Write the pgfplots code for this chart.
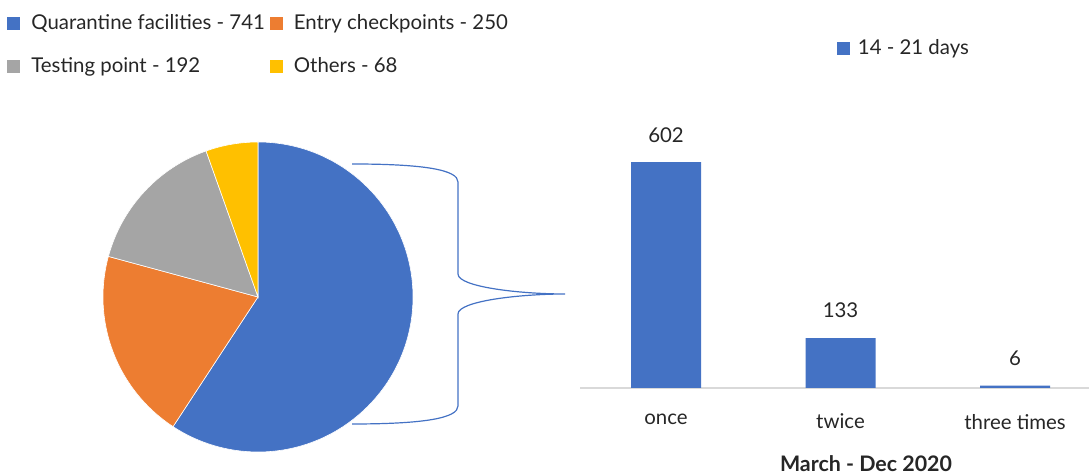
\documentclass[border=0pt]{standalone}
\usepackage{pgfplots}
\pgfplotsset{compat=1.18}
\usepackage{fontspec}
\setmainfont{Lato}
\definecolor{cblue}{HTML}{4472C4}
\definecolor{corange}{HTML}{ED7D31}
\definecolor{cgray}{HTML}{A5A5A5}
\definecolor{cyellow}{HTML}{FFC000}
\definecolor{ctext}{HTML}{262626}
\definecolor{caxis}{HTML}{D9D9D9}
\newcommand{\fs}{\fontsize{10.2}{12}\selectfont}
\begin{document}
\begin{tikzpicture}[font=\fs,text=ctext]
\path[use as bounding box] (0pt,0pt) rectangle (544.5pt,-237pt);
% ---------------- pie -----------------
\begin{axis}[
  at={(129pt,-148.5pt)}, anchor=center,
  width=155pt, height=155pt, scale only axis,
  xmin=-1, xmax=1, ymin=-1, ymax=1,
  hide axis, clip=false,
  legend columns=2,
  legend style={at={(-0.3098,1.422)}, anchor=north west, draw=none, fill=none,
    inner sep=0pt, font=\fs, text=ctext, nodes={inner sep=1.5pt},
    /tikz/every odd column/.append style={column sep=4pt},
    /tikz/every even column/.append style={column sep=1pt},
    row sep=9.5pt, legend cell align=left},
  legend image code/.code={\fill[#1,draw=none] (0pt,-3.25pt) rectangle (6.5pt,3.25pt);},
]
\addlegendimage{fill=cblue}\addlegendentry{Quarantine facilities - 741}
\addlegendimage{fill=corange}\addlegendentry{Entry checkpoints - 250}
\addlegendimage{fill=cgray}\addlegendentry{Testing point - 192}
\addlegendimage{fill=cyellow}\addlegendentry{Others - 68}
\def\total{1251}
\pgfmathsetmacro{\aA}{90}
\pgfmathsetmacro{\aB}{90-741/\total*360}
\pgfmathsetmacro{\aC}{\aB-250/\total*360}
\pgfmathsetmacro{\aD}{\aC-192/\total*360}
\pgfmathsetmacro{\aE}{\aD-68/\total*360}
\fill[cblue,draw=white,line width=0.3pt] (axis cs:0,0) -- (axis cs:{cos(\aA)},{sin(\aA)}) arc[start angle=\aA,end angle=\aB,radius=77.5pt] -- cycle;
\fill[corange,draw=white,line width=0.3pt] (axis cs:0,0) -- (axis cs:{cos(\aB)},{sin(\aB)}) arc[start angle=\aB,end angle=\aC,radius=77.5pt] -- cycle;
\fill[cgray,draw=white,line width=0.3pt] (axis cs:0,0) -- (axis cs:{cos(\aC)},{sin(\aC)}) arc[start angle=\aC,end angle=\aD,radius=77.5pt] -- cycle;
\fill[cyellow,draw=white,line width=0.3pt] (axis cs:0,0) -- (axis cs:{cos(\aD)},{sin(\aD)}) arc[start angle=\aD,end angle=\aE,radius=77.5pt] -- cycle;
\end{axis}
% ---------------- bracket -----------------
\draw[cblue,line width=0.6pt] (176pt,-82pt) .. controls (212.5pt,-82pt) and (229pt,-85pt) .. (229pt,-91pt)
  -- (229pt,-137pt) .. controls (229pt,-143.5pt) and (260pt,-147pt) .. (282.5pt,-147pt)
  .. controls (260pt,-147pt) and (229pt,-150.5pt) .. (229pt,-157pt)
  -- (229pt,-203pt) .. controls (229pt,-209pt) and (212.5pt,-212pt) .. (176pt,-212pt);
% ---------------- bars -----------------
\begin{axis}[
  at={(290pt,-194pt)}, anchor=south west,
  width=254.5pt, height=131.25pt, scale only axis,
  xmin=-0.493, xmax=2.424, ymin=0, ymax=700,
  ybar, bar width=35pt,
  axis y line=none,
  axis x line*=bottom,
  x axis line style={caxis, line width=1pt, -},
  xtick={0,1,2}, xticklabels={once,twice,three times},
  major tick length=0pt,
  xticklabel style={font=\fs, text=ctext, yshift=-9.5pt},
  nodes near coords,
  /pgf/number format/assume math mode=true,
  every node near coord/.append style={font=\fs, text=ctext, yshift=6.5pt},
  clip=false,
  legend style={at={(0.504,1.2936)}, anchor=west, draw=none, fill=none,
    inner sep=0pt, font=\fs, text=ctext, nodes={inner sep=1.5pt},
    /tikz/every odd column/.append style={column sep=2.5pt}},
  legend image code/.code={\fill[#1,draw=none] (0pt,-3.25pt) rectangle (6.5pt,3.25pt);},
]
\addplot[fill=cblue, draw=none] coordinates {(0,602) (1,133) (2,6)};
\addlegendentry{14 - 21 days}
\end{axis}
\node[font=\fontsize{10.7}{12}\selectfont\bfseries, inner sep=0pt] at (433pt,-232pt) {March - Dec 2020};
\end{tikzpicture}
\end{document}
